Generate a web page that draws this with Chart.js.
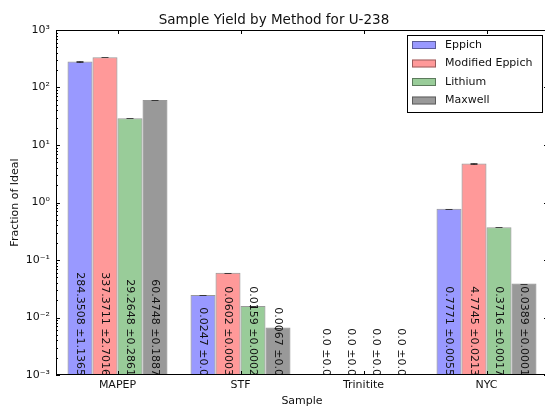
<!DOCTYPE html>
<html>
<head>
<meta charset="utf-8">
<script src="https://cdn.jsdelivr.net/npm/chart.js@4"></script>
<style>html,body{margin:0;padding:0;overflow:hidden;background:#fff}</style>
</head>
<body>
<canvas id="c" width="550" height="408"></canvas>
<script>
var samples = ['MAPEP', 'STF', 'Trinitite', 'NYC'];
var methods = ['Eppich', 'Modified Eppich', 'Lithium', 'Maxwell'];
var eppich = [284.3508, 0.0247, 0, 0.7771];
var eppichErr = [1.1365, 0, 0, 0.0055];
var modEppich = [337.3711, 0.0602, 0, 4.7745];
var modEppichErr = [2.7016, 0.0003, 0, 0.0213];
var lithium = [29.2648, 0.0159, 0, 0.3716];
var lithiumErr = [0.2861, 0.0002, 0, 0.0017];
var maxwell = [60.4748, 0.0067, 0, 0.0389];
var maxwellErr = [0.1887, 0, 0, 0.0001];
var yTicks = [1e-3, 1e-2, 1e-1, 1, 10, 100, 1000];

var fills = ['rgba(0,0,255,0.4)', 'rgba(255,0,0,0.4)', 'rgba(0,128,0,0.4)', 'rgba(0,0,0,0.4)'];
var FONT = '"DejaVu Sans", sans-serif';
var sup = { '-': '\u207b', '0': '\u2070', '1': '\u00b9', '2': '\u00b2', '3': '\u00b3' };

function fmt(v) { return Number.isInteger(v) ? v.toFixed(1) : String(v); }
function pow10(v) {
    var e = String(Math.round(Math.log10(v)));
    return '10' + e.split('').map(function (c) { return sup[c]; }).join('');
}

var extras = {
    id: 'extras',
    afterDatasetsDraw: function (chart) {
        var ctx = chart.ctx, a = chart.chartArea, ys = chart.scales.y, xs = chart.scales.x;
        // error bars (tiny here, mostly just the caps)
        ctx.save();
        ctx.strokeStyle = 'rgba(0,0,0,0.65)'; ctx.lineWidth = 1;
        chart.data.datasets.forEach(function (ds, i) {
            chart.getDatasetMeta(i).data.forEach(function (bar, j) {
                var v = ds.data[j], e = ds.err[j];
                if (v <= 0) return;
                var t = Math.round(ys.getPixelForValue(v + e)) + 0.5;
                var b = Math.round(ys.getPixelForValue(Math.max(v - e, 1e-3))) + 0.5;
                ctx.beginPath();
                ctx.moveTo(bar.x, t); ctx.lineTo(bar.x, b);
                ctx.moveTo(bar.x - 3.5, t); ctx.lineTo(bar.x + 3.5, t);
                if (b !== t) { ctx.moveTo(bar.x - 3.5, b); ctx.lineTo(bar.x + 3.5, b); }
                ctx.stroke();
            });
        });
        ctx.restore();

        // value labels, written upwards from the bottom of the axes
        ctx.save();
        ctx.beginPath(); ctx.rect(a.left, a.top, a.right - a.left, a.bottom - a.top); ctx.clip();
        ctx.font = '11px ' + FONT; ctx.fillStyle = '#111';
        ctx.textAlign = 'right'; ctx.textBaseline = 'middle';
        chart.data.datasets.forEach(function (ds, i) {
            chart.getDatasetMeta(i).data.forEach(function (bar, j) {
                ctx.save();
                ctx.translate(bar.x, a.bottom + 1);
                ctx.rotate(Math.PI / 2);
                ctx.fillText(fmt(ds.data[j]) + ' \u00b1' + fmt(ds.err[j]), 0, 0);
                ctx.restore();
            });
        });
        ctx.restore();

        // frame and inward ticks
        ctx.save();
        ctx.strokeStyle = '#000'; ctx.lineWidth = 1;
        ctx.strokeRect(a.left + 0.5, a.top + 0.5, a.right - a.left - 1, a.bottom - a.top - 1);
        ctx.beginPath();
        for (var k = 0; k < yTicks.length; k++) {
            for (var m = 1; m < 10; m++) {
                var v = yTicks[k] * m;
                if (v > yTicks[yTicks.length - 1]) break;
                var py = Math.round(ys.getPixelForValue(v)) + 0.5;
                var len = m === 1 ? 4 : 2;
                ctx.moveTo(a.left, py); ctx.lineTo(a.left + len, py);
                ctx.moveTo(a.right, py); ctx.lineTo(a.right - len, py);
            }
        }
        samples.forEach(function (s, j) {
            var px = Math.round(xs.getPixelForValue(j)) + 0.5;
            ctx.moveTo(px, a.bottom); ctx.lineTo(px, a.bottom - 4);
            ctx.moveTo(px, a.top); ctx.lineTo(px, a.top + 4);
        });
        ctx.stroke();
        ctx.restore();

        // legend box
        ctx.save();
        var lw = 135, lh = 77, lx = a.right - 6 - lw, ly = a.top + 5;
        ctx.fillStyle = '#fff'; ctx.fillRect(lx, ly, lw, lh);
        ctx.strokeStyle = '#000'; ctx.strokeRect(lx + 0.5, ly + 0.5, lw, lh);
        ctx.font = '11px ' + FONT; ctx.textAlign = 'left'; ctx.textBaseline = 'middle';
        chart.data.datasets.forEach(function (ds, i) {
            var cy = ly + 10 + i * 18.5;
            ctx.fillStyle = ds.backgroundColor;
            ctx.fillRect(lx + 5, cy - 4, 24, 8);
            ctx.strokeStyle = 'rgba(0,0,0,0.4)';
            ctx.strokeRect(lx + 5.5, cy - 3.5, 23, 7);
            ctx.fillStyle = '#111';
            ctx.fillText(ds.label, lx + 38, cy);
        });
        ctx.restore();
    }
};

var series = [eppich, modEppich, lithium, maxwell];
var errs = [eppichErr, modEppichErr, lithiumErr, maxwellErr];

new Chart(document.getElementById('c').getContext('2d'), {
    type: 'bar',
    data: {
        labels: samples,
        datasets: methods.map(function (m, i) {
            return {
                label: m, data: series[i], err: errs[i],
                backgroundColor: fills[i], borderColor: 'rgba(0,0,0,0.4)', borderWidth: 1,
                categoryPercentage: 100 / 123, barPercentage: 1
            };
        })
    },
    options: {
        responsive: false, animation: false,
        layout: { padding: { left: 0, right: 2, top: 0, bottom: 0 } },
        plugins: {
            legend: { display: false },
            tooltip: { enabled: false },
            title: {
                display: true, text: 'Sample Yield by Method for U-238', color: '#111',
                font: { family: FONT, size: 13.5, weight: 'normal' },
                padding: { top: 12, bottom: 1.8 }
            }
        },
        scales: {
            x: {
                grid: { display: false, drawTicks: false }, border: { display: false },
                ticks: { color: '#111', font: { family: FONT, size: 11 }, padding: 4, maxRotation: 0 },
                title: { display: true, text: 'Sample', color: '#111', font: { family: FONT, size: 11 }, padding: { top: 0, bottom: 0 } },
                afterFit: function (s) { s.height = 33; }
            },
            y: {
                type: 'logarithmic', min: 1e-3, max: 1e3,
                grid: { display: false, drawTicks: false }, border: { display: false },
                ticks: { color: '#111', font: { family: FONT, size: 11 }, padding: 6, autoSkip: false, callback: function (v) { return pow10(v); } },
                afterBuildTicks: function (s) { s.ticks = yTicks.map(function (v) { return { value: v, major: true }; }); },
                title: { display: true, text: 'Fraction of Ideal', color: '#111', font: { family: FONT, size: 11 }, padding: { top: 8.4, bottom: 0 } },
                afterFit: function (s) { s.width = 56; }
            }
        }
    },
    plugins: [extras]
});
</script>
</body>
</html>
